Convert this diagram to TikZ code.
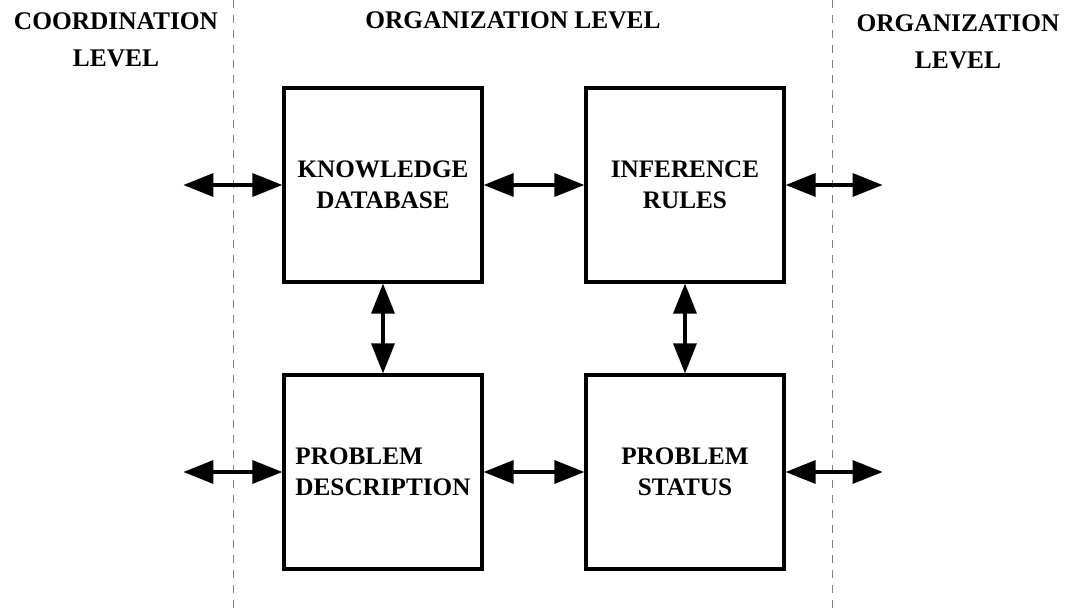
\documentclass[tikz,border=0pt]{standalone}
\usepackage{fontspec}
\setmainfont{Liberation Serif}
\usetikzlibrary{arrows.meta,positioning}

\begin{document}
\begin{tikzpicture}[
                x=0.5pt, y=-0.5pt,
                >={Triangle[length=15pt,width=11.5pt]},
                node distance=143.5pt and 151pt,
                on grid,
                block/.style={draw, line width=1.6pt, minimum width=99pt,
                    minimum height=97pt, inner sep=0pt, align=center,
                    font=\fontsize{12.6}{15.5}\selectfont\bfseries},
                heading/.style={anchor=north, inner sep=0pt, align=center,
                    font=\fontsize{12.7}{18.5}\selectfont\bfseries},
                link/.style={<->, line width=1.7pt},
                divider/.style={draw=gray, line width=0.5pt,
                    dash pattern=on 4pt off 3.5pt}]
            \useasboundingbox (0,0) rectangle (1070,614);

            \node[heading]          (coord)  at (116,12)  {COORDINATION\\LEVEL};
            \node[heading]          (orgmid) at (513,11)  {ORGANIZATION LEVEL};
            \node[heading]          (orgout) at (958,14)  {ORGANIZATION\\LEVEL};

            \draw[divider] (233,0) -- (233,614);
            \draw[divider] (832,0) -- (832,614);

            \node[block]            (kd) at (383,185)     {KNOWLEDGE\\DATABASE};
            \node[block]            (ir) [right=of kd]    {INFERENCE\\RULES};
            \node[block,align=left] (pd) [below=of kd]    {PROBLEM\\DESCRIPTION};
            \node[block]            (ps) [right=of pd]    {PROBLEM\\STATUS};

            \coordinate[left=49.5pt of kd.west]   (kdl);
            \coordinate[left=49.5pt of pd.west]   (pdl);
            \coordinate[right=48.5pt of ir.east]  (irr);
            \coordinate[right=48.5pt of ps.east]  (psr);

            \path[link]
            (kdl)
                edge (kd)
            (kd)
                edge (ir)
                edge (pd)
            (ir)
                edge (irr)
                edge (ps)
            (pdl)
                edge (pd)
            (pd)
                edge (ps)
            (ps)
                edge (psr);
        \end{tikzpicture}
\end{document}
